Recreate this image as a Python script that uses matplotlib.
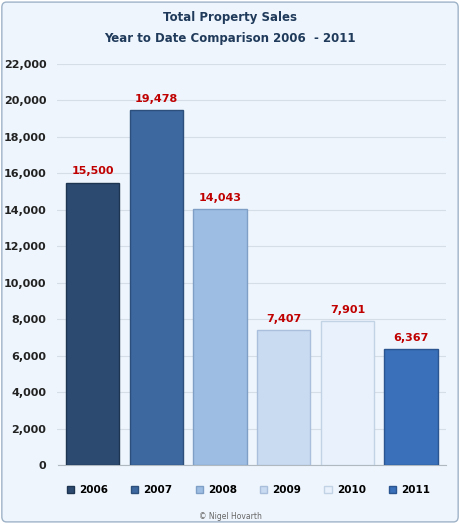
import matplotlib.pyplot as plt
from matplotlib.patches import Patch, FancyBboxPatch
import matplotlib.ticker as mt

years = ['2006', '2007', '2008', '2009', '2010', '2011']
sales = [15500, 19478, 14043, 7407, 7901, 6367]
colors = ['#2c4a70', '#3d689f', '#9dbde3', '#c9dbf1', '#e9f2fc', '#3a70b9']
edges = ['#1e3552', '#2c4f7c', '#7f9fc6', '#a9bfdc', '#c3d3e6', '#2a5590']

fig = plt.figure(figsize=(4.6, 5.24), dpi=100)
fig.patch.set_facecolor('white')
bg = FancyBboxPatch((0.004, 0.004), 0.992, 0.992, boxstyle='round,pad=0,rounding_size=0.01',
                    transform=fig.transFigure, facecolor='#eef5fc', edgecolor='#9fb3c8', lw=1, zorder=-10)
fig.patches.append(bg)
fig.text(0.5, 0.015, '© Nigel Hovarth', ha='center', va='center', fontsize=5.5, color='#666666')

ax = fig.add_axes([0.125, 0.112, 0.845, 0.766])
ax.set_zorder(5)
ax.set_facecolor('#eef5fc')
x = range(len(years))
ax.bar(x, sales, width=0.84, color=colors, edgecolor=edges, lw=1, zorder=3)
for i, v in enumerate(sales):
    ax.text(i, v + 350, f'{v:,}', ha='center', va='bottom', fontsize=8, fontweight='bold', color='#c00000')
ax.set_ylim(0, 22000)
ax.set_xlim(-0.55, 5.55)
ax.yaxis.set_major_locator(mt.MultipleLocator(2000))
ax.yaxis.set_major_formatter(mt.FuncFormatter(lambda v, p: f'{int(v):,}'))
ax.grid(axis='y', color='#d5dde6', lw=0.8, zorder=0)
ax.set_xticks([])
for s in ['top', 'right', 'left']:
    ax.spines[s].set_visible(False)
ax.spines['bottom'].set_color('#b0b8c0')
ax.tick_params(axis='y', length=0, labelsize=8, colors='#222222', pad=8)
for t in ax.get_yticklabels():
    t.set_fontweight('bold')

fig.text(0.5, 0.966, 'Total Property Sales', ha='center', va='center', fontsize=8.5, fontweight='bold', color='#1f3a5a')
fig.text(0.5, 0.927, 'Year to Date Comparison 2006  - 2011', ha='center', va='center', fontsize=8.5, fontweight='bold', color='#1f3a5a')

handles = [Patch(facecolor=c, edgecolor=e) for c, e in zip(colors, edges)]
leg = fig.legend(handles, years, loc='center', bbox_to_anchor=(0.54, 0.064), ncol=6, frameon=False,
                 fontsize=7.5, handlelength=0.7, handleheight=0.7, columnspacing=2.2, handletextpad=0.5)
for t in leg.get_texts():
    t.set_fontweight('bold')
fig.savefig('out.png', dpi=100, facecolor=fig.get_facecolor())
